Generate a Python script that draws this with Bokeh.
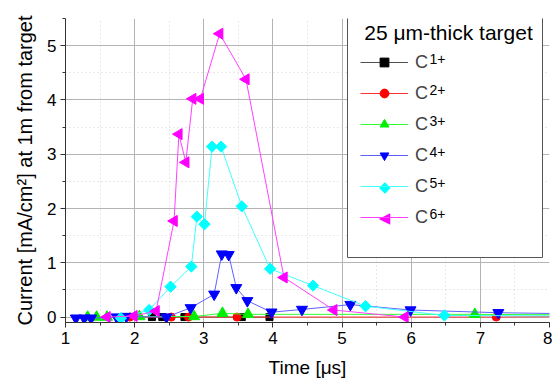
import math
from bokeh.plotting import figure
from bokeh.models import (Legend, LegendItem, Label, BoxAnnotation, Range1d,
                          SingleIntervalTicker)
from bokeh.embed import file_html
from bokeh.resources import INLINE

# ---- data ----
c1_t = [2.25, 2.40, 2.72, 3.55, 3.95]
c1_i = [0.0, 0.0, 0.0, 0.0, 0.0]

c2_t = [1.93, 2.53, 2.78, 3.48, 7.23, 8.40]
c2_i = [0.0, 0.0, 0.0, 0.0, 0.0, 0.01]

c3_t = [1.32, 1.45, 1.60, 2.07, 2.86, 3.27, 3.64, 6.92, 8.40]
c3_i = [0.0, 0.0, 0.0, 0.01, 0.01, 0.07, 0.05, 0.05, 0.04]

c4_t = [1.15, 1.27, 1.37, 1.74, 1.88, 2.46, 2.81, 3.15, 3.26, 3.36, 3.47,
        3.63, 3.98, 4.42, 5.12, 5.99, 7.26, 8.40]
c4_i = [-0.02, -0.02, -0.02, 0.0, 0.01, 0.0, 0.17, 0.42, 1.16, 1.15, 0.54,
        0.30, 0.09, 0.14, 0.23, 0.13, 0.08, 0.06]

c5_t = [1.80, 2.21, 2.52, 2.82, 2.90, 3.01, 3.12, 3.25, 3.55, 3.96, 4.58,
        5.34, 6.48, 8.40]
c5_i = [-0.02, 0.13, 0.56, 0.93, 1.85, 1.71, 3.14, 3.14, 2.04, 0.89, 0.58,
        0.20, 0.03, 0.02]

c6_t = [1.60, 1.99, 2.31, 2.57, 2.64, 2.74, 2.84, 2.95, 3.23, 3.61, 4.16,
        4.88, 5.91]
c6_i = [0.0, 0.02, 0.11, 1.77, 3.37, 2.85, 4.02, 4.02, 5.22, 4.38, 0.73,
        0.13, 0.0]

x_ticks = [1, 2, 3, 4, 5, 6, 7, 8]
y_ticks = [0, 1, 2, 3, 4, 5]

# name, x, y, line colour, marker colour, marker, size, angle, legend symbol
series = [
    ("1+", c1_t, c1_i, "#505050", "#000000", "square", 7, 0.0, None),
    ("2+", c2_t, c2_i, "#ff3030", "#ff0000", "circle", 8, 0.0, None),
    ("3+", c3_t, c3_i, "#30ff30", "#00ee00", "triangle", 11, 0.0, None),
    ("4+", c4_t, c4_i, "#6060ff", "#0000ff", "inverted_triangle", 11, 0.0, None),
    ("5+", c5_t, c5_i, "#40ffff", "#00ffff", "square", 8, math.pi / 4, "◆"),
    ("6+", c6_t, c6_i, "#ff40ff", "#ff00ff", "triangle", 11, math.pi / 2, "◀"),
]

FONT = "Liberation Sans"

p = figure(width=552, height=390, output_backend="svg", toolbar_location=None,
           x_range=Range1d(1, 8), y_range=Range1d(-0.1, 5.5),
           min_border_left=65, min_border_right=3, min_border_top=18,
           min_border_bottom=68)
p.outline_line_color = None
p.background_fill_color = "white"

p.xaxis.ticker = SingleIntervalTicker(interval=1, num_minor_ticks=2)
p.yaxis.ticker = SingleIntervalTicker(interval=1, num_minor_ticks=2)

for ax in (p.xaxis, p.yaxis):
    ax.major_label_text_font = FONT
    ax.major_label_text_font_size = "17px"
    ax.major_label_text_color = "#000000"
    ax.axis_label_text_font = FONT
    ax.axis_label_text_font_style = "normal"
    ax.axis_label_text_color = "#000000"
    ax.axis_line_color = "#333333"
    ax.major_tick_line_color = "#333333"
    ax.minor_tick_line_color = "#333333"
    ax.major_tick_in = 0
    ax.major_tick_out = 5
    ax.minor_tick_in = 0
    ax.minor_tick_out = 3
    ax.major_label_standoff = 4

p.xaxis.axis_label = "Time [μs]"
p.yaxis.axis_label = "Current [mA/cm²] at 1m from target"
p.xaxis.axis_label_text_font_size = "19px"
p.yaxis.axis_label_text_font_size = "20px"
p.xaxis.axis_label_standoff = 10
p.yaxis.axis_label_standoff = 8

for g in (p.xgrid, p.ygrid):
    g.grid_line_color = "#b4b4b4"
    g.grid_line_width = 1
    g.minor_grid_line_color = "#d2d2d2"
    g.minor_grid_line_dash = "1 3"

items = []
for name, t, i, lc, mc, mk, sz, ang, sym in series:
    lr = p.line(t, i, line_color=lc, line_width=1)
    sr = p.scatter(t, i, marker=mk, size=sz, fill_color=mc, line_color=mc,
                   angle=ang)
    rends = [lr] if sym else [lr, sr]
    items.append(LegendItem(label="C", renderers=rends))

# legend box
box = BoxAnnotation(left=282, right=477, top=315, bottom=65,
                    left_units="screen", right_units="screen",
                    top_units="screen", bottom_units="screen",
                    fill_color="white", fill_alpha=1.0,
                    line_color="#555555", line_width=1, line_alpha=1.0)
p.add_layout(box)

legend = Legend(items=items, location=(295, 94), orientation="vertical",
                glyph_width=48, glyph_height=22, label_height=22,
                spacing=9, padding=0, margin=0, label_standoff=7,
                label_text_font=FONT, label_text_font_size="18px",
                border_line_alpha=0, background_fill_alpha=0)
p.add_layout(legend)

title = Label(x=383, y=290, x_units="screen", y_units="screen",
              text="25 μm-thick target", text_font=FONT,
              text_font_size="21px", text_align="center",
              text_baseline="middle", text_color="#000000")
p.add_layout(title)

for k, (name, t, i, lc, mc, mk, sz, ang, sym) in enumerate(series):
    sup = Label(x=364, y=263.7 - 31 * k, x_units="screen", y_units="screen",
                text=name, text_font=FONT, text_font_size="14px",
                text_align="left", text_baseline="middle",
                text_color="#000000")
    p.add_layout(sup)
    if sym:
        # rotated legend symbol (legend glyphs ignore marker angle)
        p.add_layout(Label(x=319, y=260 - 31 * k, x_units="screen",
                           y_units="screen", text=sym,
                           text_font="DejaVu Sans", text_font_size="15px",
                           text_align="center", text_baseline="middle",
                           text_color=mc))

open("out.html", "w").write(file_html(p, INLINE))
